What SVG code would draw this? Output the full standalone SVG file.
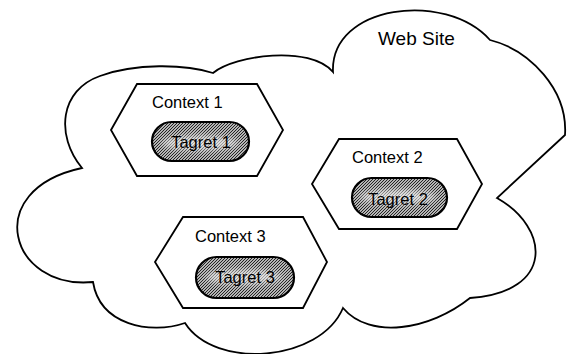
<svg xmlns="http://www.w3.org/2000/svg" width="569" height="354" viewBox="0 0 569 354">
  <style>
    .outline { fill: #ffffff; stroke: #000000; stroke-width: 1.8; stroke-linejoin: miter; }
    .hex { fill: #ffffff; stroke: #000000; stroke-width: 1.8; }
    .pill { fill: url(#hatch); stroke: #000000; stroke-width: 2.2; }
    .lbl { font-family: "Liberation Sans", Arial, sans-serif; font-size: 16.5px; fill: #000000; }
    .title { font-family: "Liberation Sans", Arial, sans-serif; font-size: 19px; fill: #000000; }
    .tag { font-family: "Liberation Sans", Arial, sans-serif; font-size: 16.5px; fill: #000000; text-anchor: middle; }
  </style>
  <defs>
    <pattern id="hatch" patternUnits="userSpaceOnUse" width="3" height="3">
      <rect width="3" height="3" fill="#b4b4b4"/>
      <path d="M-1,1 L1,-1 M0,3 L3,0 M2,4 L4,2" stroke="#222222" stroke-width="1"/>
    </pattern>
    <filter id="soft" x="-20%" y="-50%" width="140%" height="200%">
      <feGaussianBlur stdDeviation="3"/>
    </filter>
  </defs>

  <g id="web-site">
    <path class="outline" d="M82,168 C55,135 60,90 100,76 C135,63 185,64 213,73 C235,55 310,45 333,72 C330,5 445,-10 490,40 C530,50 568,90 565,135 L497,198 C550,228 555,292 470,298 C430,330 370,340 343,308 C320,362 215,370 185,323 C150,335 100,325 93,282 C10,290 -20,190 82,168 Z"/>
    <text class="title" x="378" y="45">Web Site</text>
  </g>

  <g id="context-1">
    <polygon class="hex" points="111,130 137,84 257,84 283,130 257,176 137,176"/>
    <text class="lbl" x="152" y="108">Context 1</text>
  </g>
  <g id="target-1">
    <rect class="pill" x="152" y="122" width="97" height="39" rx="19.5"/>
    <ellipse cx="200" cy="143" rx="38" ry="7" fill="#ffffff" opacity="0.6" filter="url(#soft)"/>
    <text class="tag" x="201" y="148">Tagret 1</text>
  </g>

  <g id="context-2">
    <polygon class="hex" points="312,184 339,139 457,139 482,184 457,229 339,229"/>
    <text class="lbl" x="352" y="163">Context 2</text>
  </g>
  <g id="target-2">
    <rect class="pill" x="352" y="178" width="95" height="39" rx="19.5"/>
    <ellipse cx="398" cy="197" rx="38" ry="7" fill="#ffffff" opacity="0.6" filter="url(#soft)"/>
    <text class="tag" x="398" y="205">Tagret 2</text>
  </g>

  <g id="context-3">
    <polygon class="hex" points="155,262 183,217 303,217 327,262 303,308 183,308"/>
    <text class="lbl" x="195" y="242">Context 3</text>
  </g>
  <g id="target-3">
    <rect class="pill" x="196" y="257" width="98" height="41" rx="20.5"/>
    <ellipse cx="244" cy="277" rx="38" ry="7" fill="#ffffff" opacity="0.6" filter="url(#soft)"/>
    <text class="tag" x="245" y="283">Tagret 3</text>
  </g>

  <g id="connectors"></g>
</svg>
